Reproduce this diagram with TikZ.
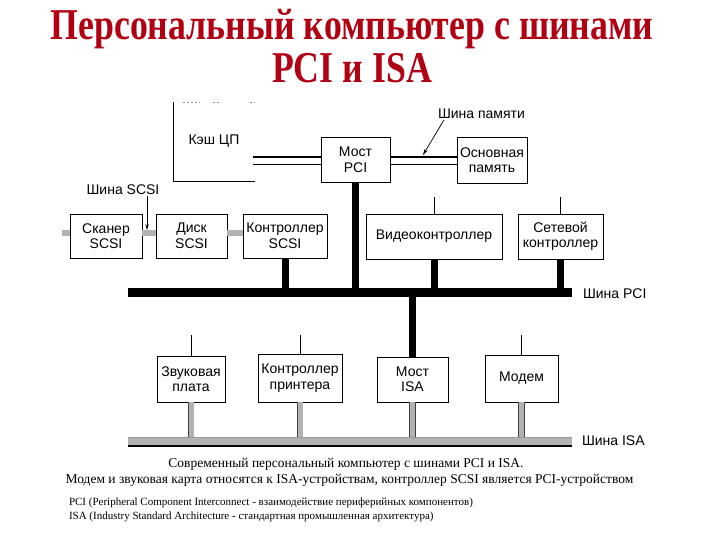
\documentclass[tikz,border=0pt]{standalone}
\usepackage{fontspec}
\setmainfont{Liberation Serif}
\newfontfamily\diagfamily{Liberation Sans}
\usetikzlibrary{arrows.meta}
\definecolor{titlered}{RGB}{176,0,18}
\newcommand\dgfont{\diagfamily\fontsize{14}{15.5}\selectfont}
\begin{document}
\begin{tikzpicture}[x=1pt,y=-1pt,
  every node/.style={inner sep=0pt, outer sep=0pt},
  box/.style={draw, line width=0.9pt, align=center, font=\dgfont, fill=white},
  lbl/.style={font=\dgfont},
  pcilink/.style={line width=7pt},
  thinline/.style={line width=0.7pt},
  stip/.style={draw=black!75, line width=0.7pt, double=black!30, double distance=5pt},
  ttl/.style={font=\bfseries\fontsize{44}{48}\selectfont, text=titlered},
  captext/.style={font=\fontsize{13.5}{15}\selectfont},
  capsmall/.style={font=\fontsize{11}{13}\selectfont, anchor=west},
  arr/.style={thinline, -{Stealth[length=6pt,width=3.5pt]}}
]
\useasboundingbox (0,0) rectangle (720,540);

% title
\node[ttl] (t1) at (352,29) {\scalebox{0.813}[1]{Персональный компьютер с шинами}};
\node[ttl] (t2) at (352,68) {\scalebox{0.813}[1]{PCI и ISA}};

% CPU cache (partial box)
\coordinate (cpuTL) at (173,102);
\coordinate (cpuBL) at (173,181);
\coordinate (cpuBR) at (255,181);
\draw[line width=0.9pt] (cpuTL) -- (cpuBL) -- (cpuBR);
\draw[black!45, line width=0.7pt, dash pattern=on 1.5pt off 2.5pt] (183,102) -- (200,102) (213,102) -- (220,102) (250,102) -- (255,102);
\node[lbl] (cache) at (214,141) {Кэш ЦП};

% PCI bridge and memory
\node[box, minimum width=69pt, minimum height=45pt] (pcib) at (355.5,160) {Мост\\PCI};
\node[box, minimum width=70pt, minimum height=46pt] (mem) at (492,160) {Основная\\память};
\coordinate (cpuR1) at (253,157);
\coordinate (cpuR2) at (253,164);
\draw[line width=1.6pt] (cpuR1) -- (cpuR1 -| pcib.west);
\draw[line width=0.8pt] (cpuR2) -- (cpuR2 -| pcib.west);
\draw[line width=1.6pt] (pcib.east |- cpuR1) -- (mem.west |- cpuR1);
\draw[line width=0.8pt] (pcib.east |- cpuR2) -- (mem.west |- cpuR2);
\node[lbl, anchor=west] (memlbl) at (438,114) {Шина памяти};
\coordinate (memarrow) at (423,155);
\draw[arr] ([xshift=6pt,yshift=-1pt]memlbl.south west) -- (memarrow);

% SCSI row
\node[box, minimum width=72pt, minimum height=44pt] (scan) at (106,236) {Сканер\\SCSI};
\node[box, minimum width=71pt, minimum height=44pt] (disk) at (191.5,236) {Диск\\SCSI};
\node[box, minimum width=84pt, minimum height=44pt] (scsictl) at (285,236) {Контроллер\\SCSI};
\node[box, minimum width=136pt, minimum height=45pt] (video) at (434,236.5) {Видеоконтроллер};
\node[box, minimum width=85pt, minimum height=45pt] (net) at (560.5,236.5) {Сетевой\\контроллер};

\coordinate (scsiL) at (62,233);
\draw[stip] (scsiL) -- (scsiL -| scan.west);
\draw[stip] (scan.east |- scsiL) -- (disk.west |- scsiL);
\draw[stip] (disk.east |- scsiL) -- (scsictl.west |- scsiL);
\node[lbl] (scsilbl) at (123,190) {Шина SCSI};
\coordinate (scsiarrow) at (147,230);
\draw[arr] ([xshift=24pt,yshift=-1pt]scsilbl.south) -- (scsiarrow);

\coordinate (upRowA) at (0,197);
\draw[thinline] (video.north) -- (video.north |- upRowA);
\draw[thinline] (net.north) -- (net.north |- upRowA);

% PCI bus
\coordinate (pciL) at (128,292.5);
\coordinate (pciR) at (572,292.5);
\draw[pcilink] (scsictl.south) -- (scsictl.south |- pciL);
\draw[pcilink] (pcib.south) -- (pcib.south |- pciL);
\draw[pcilink] (video.south) -- (video.south |- pciL);
\draw[pcilink] (net.south) -- (net.south |- pciL);
\draw[line width=9pt] (pciL) -- (pciR);
\node[lbl, anchor=west] (pcilbl) at (583,294) {Шина PCI};

% ISA row
\node[box, minimum width=68pt, minimum height=46pt] (sound) at (191,379) {Звуковая\\плата};
\node[box, minimum width=84pt, minimum height=48pt] (prn) at (300,378) {Контроллер\\принтера};
\node[box, minimum width=71pt, minimum height=45pt] (isab) at (412.5,379.5) {Мост\\ISA};
\node[box, minimum width=73pt, minimum height=47pt] (modem) at (521.5,378.5) {Модем};
\draw[pcilink] (isab.north |- pciL) -- (isab.north);

\coordinate (upRowB) at (0,335);
\draw[thinline] (sound.north) -- (sound.north |- upRowB);
\draw[thinline] (prn.north) -- (prn.north |- upRowB);
\draw[thinline] (modem.north) -- (modem.north |- upRowB);

% ISA bus
\coordinate (isaL) at (128,441.5);
\coordinate (isaR) at (572,441.5);
\draw[stip] (sound.south) -- (sound.south |- isaL);
\draw[stip] (prn.south) -- (prn.south |- isaL);
\draw[stip] (isab.south) -- (isab.south |- isaL);
\draw[stip] (modem.south) -- (modem.south |- isaL);
\draw[draw=black!40, line width=0.6pt, double=black!30, double distance=7pt] (isaL) -- (isaR);
\draw[line width=1.4pt] ([yshift=-4.5pt]isaL) -- ([yshift=-4.5pt]isaR);
\node[lbl, anchor=west] (isalbl) at (582,441) {Шина ISA};

% captions
\node[captext] (c1) at (346,464) {Современный персональный компьютер с шинами PCI и ISA.};
\node[captext] (c2) at (349.5,480) {Модем и звуковая карта относятся к ISA-устройствам, контроллер SCSI является PCI-устройством};
\node[capsmall] (c3) at (69,503) {PCI (Peripheral Component Interconnect - взаимодействие периферийных компонентов)};
\node[capsmall] (c4) at (69,517) {ISA (Industry Standard Architecture - стандартная промышленная архитектура)};
\end{tikzpicture}
\end{document}
